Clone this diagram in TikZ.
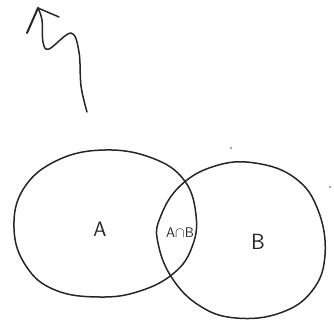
\documentclass[tikz,border=0pt]{standalone}
\begin{document}
\begin{tikzpicture}[x=1pt,y=-1pt,
  pen/.style={line width=1.5pt,line cap=round,line join=round,draw=black!85},
  lbl/.style={font=\sffamily,inner sep=0pt,text=black!85},
  speck/.style={fill=black!70}]
\useasboundingbox (0,0) rectangle (334,321);
% circle A
\draw[pen] plot[smooth cycle,tension=0.7] coordinates {(14,228) (24,188) (58,160) (105,150) (152,158) (184,180) (196,215) (192,247) (174,273) (140,291) (100,297) (55,290) (26,266)};
% circle B
\draw[pen] plot[smooth cycle,tension=0.7] coordinates {(160,218) (180,186) (215,166) (255,163) (295,178) (318,210) (325,255) (312,291) (280,313) (236,318) (200,306) (172,278) (158,243)};
% arrow
\draw[pen] plot[smooth,tension=0.6] coordinates {(87,112) (81,86) (79,52) (71,33) (49,49) (43,42) (42,20) (38,8)};
\draw[pen] (38,8) -- (59,17);
\draw[pen,line width=2pt] (38,8) -- (27,33);
% labels
\node[lbl,font=\sffamily\fontsize{21}{21}\selectfont] (la) at (100,229) {A};
\node[lbl,font=\sffamily\fontsize{14}{14}\selectfont] (lab) at (180,233) {A$\cap$B};
\node[lbl,font=\sffamily\fontsize{22}{22}\selectfont] (lb) at (258,242) {B};
% specks
\fill[speck] (231,148) circle (0.9);
\fill[speck] (330,187) circle (0.9);
\end{tikzpicture}
\end{document}
